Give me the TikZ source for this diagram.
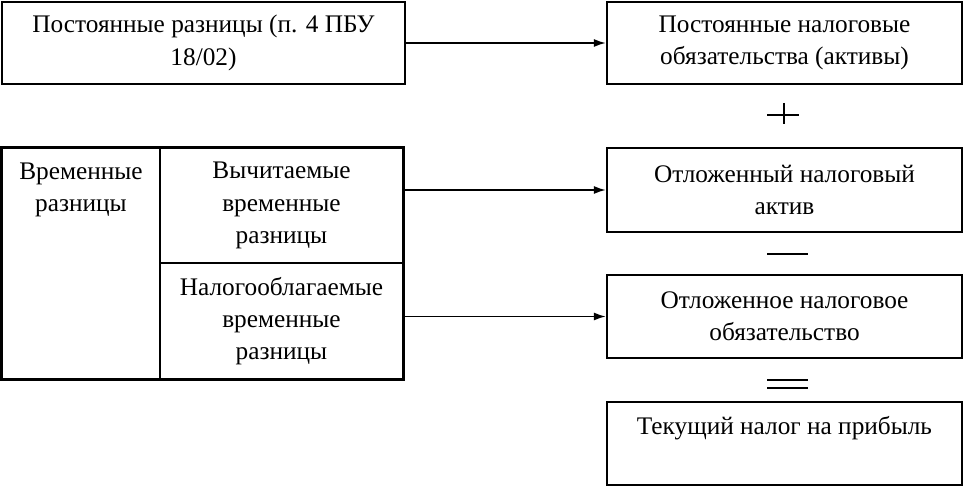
\documentclass[tikz,border=0pt]{standalone}
\usepackage{fontspec}
\setmainfont{Liberation Serif}
\usepackage{tikz}
\usetikzlibrary{arrows.meta,positioning,calc}

\begin{document}
\begin{tikzpicture}[
  x=1cm, y=1cm,
  arr/.style={-{Latex[length=3mm,width=2mm]}, line width=1.3pt},
  box/.style={draw, line width=1.5pt, align=center, inner sep=0pt,
              minimum width=8.875cm, minimum height=2.075cm},
  cell/.style={draw, line width=1.2pt, align=center, inner sep=0pt},
  sign/.style={line width=1.3pt},
  toptext/.style={anchor=north, align=center, inner sep=0.38cm},
  every node/.style={font=\fontsize{18pt}{23pt}\selectfont}]

\useasboundingbox (0,0) rectangle (24.1,12.175);

% ---- the permanent differences ------------------------------------------
\node[box, minimum width=10.075cm, minimum height=2.05cm] (post) at (5.0875,11.1)
     {Постоянные разницы (п. 4 ПБУ\\18/02)};
\node[box, minimum height=2.05cm] (pno) at (19.6125,11.1)
     {Постоянные налоговые\\обязательства (активы)};

% ---- the temporary differences, as a little table -----------------------
\node[cell, minimum width=3.95cm, minimum height=5.775cm,
      label={[toptext]north:Временные\\разницы}] (vrem) at (2.025,5.5875) {};
\node[cell, minimum width=6.075cm, minimum height=2.875cm] (vych) at (7.0375,7.0375)
     {Вычитаемые\\временные\\разницы};
\node[cell, minimum width=6.075cm, minimum height=2.9cm] (nalog) at (7.0375,4.15)
     {Налогооблагаемые\\временные\\разницы};
\draw[line width=1.4pt] (vrem.north west) rectangle (nalog.south east);

% ---- the deferred items and the current tax -----------------------------
\node[box, minimum height=2.1cm] (ona) at (19.6125,7.425)
     {Отложенный налоговый\\актив};
\node[box] (ono) at (19.6125,4.2625)
     {Отложенное налоговое\\обязательство};
\node[box, label={[toptext]north:Текущий налог на прибыль}] (tnp) at (19.6125,1.0875) {};

% ---- arrows --------------------------------------------------------------
\draw[arr] (post.east) -- (pno.west);
\draw[arr] (vych.east |- ona.west) -- (ona.west);
\draw[arr] (nalog.east |- ono.west) -- (ono.west);

% ---- the signs between the boxes ----------------------------------------
\draw[sign] (19.175,9.3075) -- (19.975,9.3075) (19.6,9.6) -- (19.6,9.075);
\draw[sign] (19.175,5.8325) -- (20.2,5.8325);
\draw[sign] (19.175,2.675) -- (20.2,2.675) (19.175,2.4675) -- (20.2,2.4675);

\end{tikzpicture}
\end{document}
